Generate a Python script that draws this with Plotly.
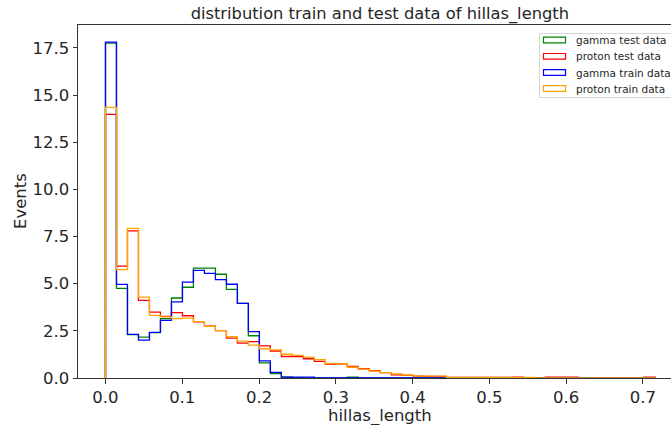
import numpy as np
import plotly.graph_objects as go

# ---- data (density histograms, 50 common bins) ----
bin_start = 0.0
bin_width = 0.01432
n_bins = 50

gamma_test = [17.75, 4.75, 2.30, 2.17, 2.40, 3.15, 4.24, 4.81, 5.82, 5.82,
              5.50, 4.70, 3.96, 2.24, 0.80, 0.23, 0.04, 0.02, 0.0, 0.0,
              0.0, 0.0, 0.04, 0.0, 0.0, 0.0, 0.0, 0.0, 0.0, 0.0,
              0.0, 0.0, 0.0, 0.0, 0.0, 0.0, 0.0, 0.0, 0.0, 0.0,
              0.0, 0.0, 0.0, 0.0, 0.0, 0.0, 0.0, 0.0, 0.0, 0.0]
proton_test = [13.97, 5.93, 7.80, 4.11, 3.49, 3.27, 3.47, 3.30, 2.98, 2.75,
               2.51, 2.11, 1.85, 1.93, 1.70, 1.43, 1.14, 1.13, 1.02, 0.88,
               0.74, 0.75, 0.62, 0.49, 0.39, 0.28, 0.17, 0.14, 0.10, 0.08,
               0.08, 0.03, 0.03, 0.03, 0.03, 0.03, 0.03, 0.05, 0.02, 0.0,
               0.04, 0.04, 0.04, 0.0, 0.0, 0.0, 0.0, 0.0, 0.0, 0.04]
gamma_train = [17.80, 4.96, 2.31, 2.01, 2.42, 3.05, 4.03, 5.08, 5.70, 5.55,
               5.21, 4.97, 3.96, 2.46, 0.91, 0.30, 0.05, 0.05, 0.05, 0.0,
               0.0, 0.0, 0.0, 0.0, 0.0, 0.0, 0.0, 0.0, 0.0, 0.0,
               0.0, 0.0, 0.0, 0.0, 0.0, 0.0, 0.0, 0.0, 0.0, 0.0,
               0.0, 0.0, 0.0, 0.0, 0.0, 0.0, 0.0, 0.0, 0.0, 0.0]
proton_train = [14.34, 5.74, 7.93, 4.29, 3.32, 3.24, 3.15, 3.17, 2.99, 2.74,
                2.51, 2.19, 1.95, 1.74, 1.55, 1.49, 1.26, 1.20, 1.11, 0.97,
                0.77, 0.75, 0.57, 0.47, 0.36, 0.28, 0.22, 0.16, 0.10, 0.10,
                0.10, 0.03, 0.03, 0.03, 0.03, 0.03, 0.03, 0.03, 0.03, 0.0,
                0.0, 0.0, 0.0, 0.0, 0.0, 0.0, 0.0, 0.0, 0.0, 0.0]

series_names = ["gamma test data", "proton test data", "gamma train data", "proton train data"]
series_values = [gamma_test, proton_test, gamma_train, proton_train]
series_colors = ["green", "red", "blue", "orange"]

x_tick_vals = [0.0, 0.1, 0.2, 0.3, 0.4, 0.5, 0.6, 0.7]
x_tick_text = ["0.0", "0.1", "0.2", "0.3", "0.4", "0.5", "0.6", "0.7"]
y_tick_vals = [0.0, 2.5, 5.0, 7.5, 10.0, 12.5, 15.0, 17.5]
y_tick_text = ["0.0", "2.5", "5.0", "7.5", "10.0", "12.5", "15.0", "17.5"]

edges = bin_start + bin_width * np.arange(n_bins + 1)

# ---- layout geometry (pixels) ----
W, H = 671, 425
ML, MR, MT, MB = 78, 0, 25, 47
PW, PH = W - ML - MR, H - MT - MB


def px_x(px):
    return (px - ML) / PW


def px_y(py):
    return 1 - (py - MT) / PH


FONT = "DejaVu Sans"
TXT = "#262626"
fig = go.Figure()
for name, vals, col in zip(series_names, series_values, series_colors):
    # step outline: start at baseline, follow bin tops, return to baseline
    xs = [edges[0]] + list(edges) + [edges[-1]]
    ys = [0.0] + list(vals) + [vals[-1], 0.0]
    fig.add_trace(go.Scatter(
        x=xs, y=ys, mode="lines", name=name, showlegend=False,
        line=dict(color=col, width=1.3, shape="hv"),
    ))

# ---- legend drawn like matplotlib's (outlined patches) ----
shapes = [dict(type="rect", xref="paper", yref="paper",
               x0=px_x(539.5), x1=px_x(690), y0=px_y(97.5), y1=px_y(33.5),
               line=dict(color="#d4d4d4", width=1), fillcolor="rgba(255,255,255,0.85)",
               layer="above")]
annotations = []
row_y = [40.0, 56.3, 72.5, 88.5]
for name, col, ry in zip(series_names, series_colors, row_y):
    shapes.append(dict(type="rect", xref="paper", yref="paper",
                       x0=px_x(543.5), x1=px_x(565.5), y0=px_y(ry + 2.8), y1=px_y(ry - 2.8),
                       line=dict(color=col, width=1.2), fillcolor="rgba(0,0,0,0)",
                       layer="above"))
    annotations.append(dict(text=name, xref="paper", yref="paper",
                            x=px_x(573.5), y=px_y(ry), xanchor="left", yanchor="middle",
                            showarrow=False, font=dict(family=FONT, size=10.5, color=TXT)))

# axis titles
annotations.append(dict(text="hillas_length", xref="paper", yref="paper",
                        x=px_x(380), y=px_y(415.5), xanchor="center", yanchor="middle",
                        showarrow=False, borderpad=0,
                        font=dict(family=FONT, size=16.5, color=TXT)))
annotations.append(dict(text="Events", xref="paper", yref="paper",
                        x=px_x(21), y=px_y(201), xanchor="center", yanchor="middle",
                        textangle=-90, showarrow=False,
                        font=dict(family=FONT, size=16.5, color=TXT)))

fig.update_layout(
    width=W, height=H,
    margin=dict(l=ML, r=MR, t=MT, b=MB),
    paper_bgcolor="white", plot_bgcolor="white",
    font=dict(family=FONT, size=16.5, color=TXT),
    title=dict(text="distribution train and test data of hillas_length",
               font=dict(family=FONT, size=16.3, color=TXT),
               xref="paper", x=0.509, xanchor="center",
               yref="container", y=1 - 13.5 / H, yanchor="middle"),
    showlegend=False,
    shapes=shapes,
    annotations=annotations,
)
fig.update_xaxes(
    range=[-0.0358, 0.7367], tickvals=x_tick_vals, ticktext=x_tick_text,
    showgrid=False, zeroline=False, showline=True, linecolor="#333333", linewidth=1,
    mirror=True, ticks="outside", ticklen=4.5, tickcolor="#333333", automargin=False,
    tickfont=dict(family=FONT, size=16.5, color=TXT),
)
fig.update_yaxes(
    range=[0, 18.71], tickvals=y_tick_vals, ticktext=y_tick_text,
    showgrid=False, zeroline=False, showline=True, linecolor="#333333", linewidth=1,
    mirror=False, ticks="outside", ticklen=4.5, tickcolor="#333333", automargin=False,
    tickfont=dict(family=FONT, size=16.5, color=TXT),
)

fig.write_html("out.html", config={"displayModeBar": False},
               post_script="document.body.style.margin='0';document.body.style.overflow='hidden';")
